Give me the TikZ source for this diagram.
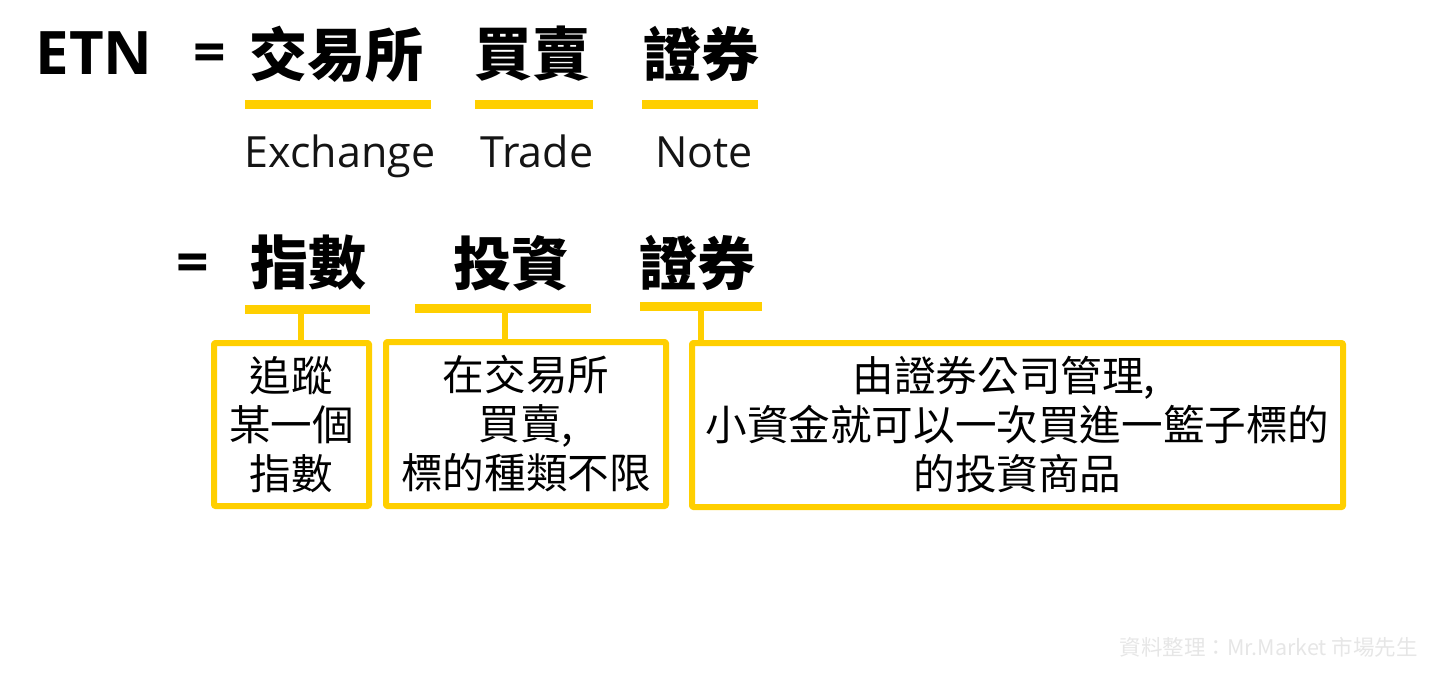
\documentclass[tikz,border=0pt]{standalone}
\usepackage{fontspec}
\setmainfont{Open Sans}
\newfontfamily\cjk{Noto Sans CJK TC}
\definecolor{barcolor}{HTML}{FFCF00}
\definecolor{markcolor}{HTML}{E6E6E6}
\tikzset{
	headword/.style={font=\cjk\bfseries\fontsize{58}{60}\selectfont, inner sep=0pt, text=black},
	latinword/.style={font=\fontsize{43}{48}\selectfont, inner sep=0pt, text=black!92, anchor=base},
	equalsign/.style={font=\bfseries\fontsize{57}{60}\selectfont, inner sep=0pt},
	bar/.style={fill=barcolor, inner sep=0pt, minimum height=9pt},
	notebox/.style={draw=barcolor, line width=6pt, rounded corners=1pt, fill=white, align=center, inner sep=0pt,
		font=\cjk\fontsize{41.6}{49}\selectfont},
	stem/.style={draw=barcolor, line width=6pt}
}
\begin{document}
\begin{tikzpicture}[x=1pt, y=-1pt, line join=round]
	\useasboundingbox (0,0) rectangle (1437,673);
	% first row
	\node[font=\bfseries\fontsize{60}{62}\selectfont, inner sep=0pt] (etn) at (94,53) {ETN};
	\node[equalsign] (eqa) at (210,58) {=};
	\node[headword] (jiaoyisuo) at (336,54) {交易所};
	\node[headword] (maimai) at (532,54) {買賣};
	\node[headword] (zhengquana) at (701,54) {證券};
	\node[bar, minimum width=186pt] (bara) at (338,104) {};
	\node[bar, minimum width=118pt] (barb) at (533.5,104) {};
	\node[bar, minimum width=116pt] (barc) at (700,104) {};
	\node[latinword] (exchange) at (340,167) {Exchange};
	\node[latinword] (trade) at (537,167) {Trade};
	\node[latinword] (note) at (704,167) {Note};
	% second row
	\node[equalsign] (eqb) at (193,268) {=};
	\node[headword] (zhishu) at (308,263) {指數};
	\node[headword] (touzi) at (511,263) {投資};
	\node[headword] (zhengquanb) at (697,263) {證券};
	\node[bar, minimum width=125pt] (bard) at (307.5,309) {};
	\node[bar, minimum width=176pt] (bare) at (503,308) {};
	\node[bar, minimum width=122pt] (barf) at (701,306) {};
	% boxes
	\node[notebox, minimum width=155pt, minimum height=163pt] (boxa) at (291.5,424.5) {追蹤\\某一個\\指數};
	\node[notebox, minimum width=280pt, minimum height=164pt] (boxb) at (526,424) {在交易所\\買賣,\\標的種類不限};
	\node[notebox, minimum width=651pt, minimum height=164pt] (boxc) at (1017.5,425) {由證券公司管理,\hspace*{27pt}\\小資金就可以一次買進一籃子標的\\的投資商品};
	\coordinate (stema) at (301,309);
	\coordinate (stemb) at (505,308);
	\coordinate (stemc) at (701,306);
	\draw[stem] (stema) -- (stema |- boxa.north);
	\draw[stem] (stemb) -- (stemb |- boxb.north);
	\draw[stem] (stemc) -- (stemc |- boxc.north);
	\node[anchor=east, inner sep=0pt, text=markcolor, font=\cjk\fontsize{21.5}{24}\selectfont] (source) at (1418,647) {資料整理\char"FF1A Mr.Market 市場先生};
\end{tikzpicture}
\end{document}
